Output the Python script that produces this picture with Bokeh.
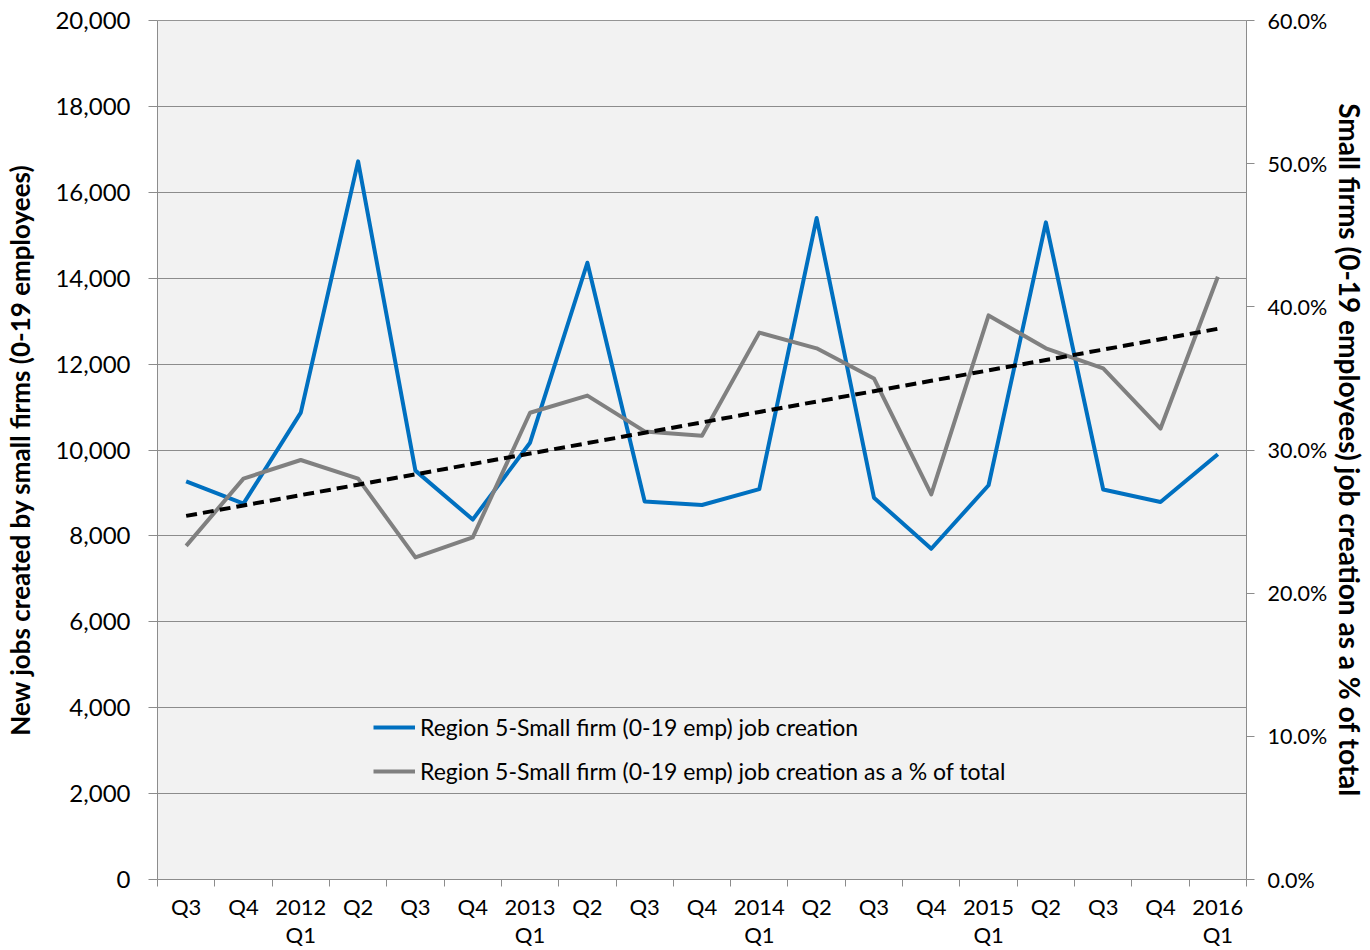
import numpy as np
from bokeh.plotting import figure
from bokeh.models import (Range1d, LinearAxis, FixedTicker, NumeralTickFormatter,
                          Legend, LegendItem, Span)
from bokeh.embed import file_html
from bokeh.resources import INLINE

# ---- data ----
categories = ["Q3", "Q4", "2012\nQ1", "Q2", "Q3", "Q4", "2013\nQ1", "Q2", "Q3", "Q4",
              "2014\nQ1", "Q2", "Q3", "Q4", "2015\nQ1", "Q2", "Q3", "Q4", "2016\nQ1"]
jobs = [9270, 8750, 10870, 16720, 9520, 8380, 10170, 14360, 8800, 8720,
        9090, 15400, 8890, 7700, 9180, 15300, 9080, 8790, 9900]
share = [0.233, 0.280, 0.293, 0.280, 0.225, 0.239, 0.326, 0.338, 0.313, 0.310,
         0.382, 0.371, 0.350, 0.269, 0.394, 0.371, 0.357, 0.315, 0.421]
jobs_label = "Region 5-Small firm (0-19 emp) job creation"
share_label = "Region 5-Small firm (0-19 emp) job creation as a % of total"
left_title = "New jobs created by small firms (0-19 employees)"
right_title = "Small firms (0-19 employees) job creation as a % of total"

x = list(range(len(categories)))
coef = np.polyfit(x, share, 1)
trend = [coef[0] * i + coef[1] for i in x]

FONT = "Lato"
GRID = "#8c8c8c"

p = figure(width=1370, height=950, output_backend="svg", toolbar_location=None,
           x_range=Range1d(-0.5, len(categories) - 0.5), y_range=Range1d(0, 20000),
           min_border_left=157, min_border_right=123, min_border_top=20, min_border_bottom=70,
           background_fill_color="#f2f2f2", border_fill_color="white")
p.outline_line_color = None
p.extra_y_ranges = {"pct": Range1d(0, 0.6)}

# x axis: labels at category centres, ticks at boundaries (minor)
xa = p.xaxis[0]
xa.ticker = FixedTicker(ticks=x, minor_ticks=[i - 0.5 for i in range(len(categories) + 1)])
xa.major_label_overrides = {i: c for i, c in enumerate(categories)}
xa.major_tick_out = 0
xa.major_tick_in = 0
xa.minor_tick_out = 7
xa.minor_tick_in = 0
xa.axis_line_color = GRID
xa.minor_tick_line_color = GRID
xa.major_label_text_font = FONT
xa.major_label_text_font_size = "22px"
xa.major_label_text_color = "black"
xa.major_label_text_line_height = 1.05
xa.major_label_standoff = 6
p.xgrid.visible = False

# left axis
ya = p.yaxis[0]
ya.ticker = FixedTicker(ticks=list(range(0, 20001, 2000)))
ya.formatter = NumeralTickFormatter(format="0,0")
ya.minor_tick_line_color = None
ya.major_tick_out = 9
ya.major_tick_in = 0
ya.axis_line_color = GRID
ya.major_tick_line_color = GRID
ya.major_label_text_font = FONT
ya.major_label_text_font_size = "24px"
ya.major_label_text_color = "black"
ya.major_label_standoff = 18
ya.axis_label = left_title
ya.axis_label_text_font = FONT
ya.axis_label_text_font_size = "26px"
ya.axis_label_text_font_style = "bold"
ya.axis_label_text_color = "black"
ya.axis_label_standoff = 16
p.ygrid.ticker = FixedTicker(ticks=list(range(0, 20001, 2000)))
p.ygrid.grid_line_color = GRID
p.ygrid.grid_line_width = 1.2

# right axis
ra = LinearAxis(y_range_name="pct", ticker=FixedTicker(ticks=[i / 10 for i in range(7)]),
                formatter=NumeralTickFormatter(format="0.0%"))
ra.minor_tick_line_color = None
ra.major_tick_out = 8
ra.major_tick_in = 0
ra.axis_line_color = GRID
ra.major_tick_line_color = GRID
ra.major_label_text_font = FONT
ra.major_label_text_font_size = "21.5px"
ra.major_label_text_color = "black"
ra.major_label_standoff = 13
ra.axis_label = right_title
ra.axis_label_text_font = FONT
ra.axis_label_text_font_size = "28px"
ra.axis_label_text_font_style = "bold"
ra.axis_label_text_color = "black"
ra.axis_label_standoff = 3
p.add_layout(ra, "right")

p.add_layout(Span(location=20000, dimension="width", line_color="#333333", line_width=1))

r_jobs = p.line(x, jobs, line_color="#0070C0", line_width=4, line_join="round")
r_share = p.line(x, share, y_range_name="pct", line_color="#808080", line_width=4, line_join="round")
p.line(x, trend, y_range_name="pct", line_color="black", line_width=4, line_dash="11 6")

legend = Legend(items=[LegendItem(label=jobs_label, renderers=[r_jobs]),
                       LegendItem(label=share_label, renderers=[r_share])],
                location=(216, 94), orientation="vertical")
legend.background_fill_alpha = 0
legend.border_line_color = None
legend.padding = 0
legend.margin = 0
legend.spacing = 16
legend.glyph_width = 42
legend.glyph_height = 20
legend.label_height = 20
legend.label_standoff = 5
legend.label_text_font = FONT
legend.label_text_font_size = "23px"
legend.label_text_color = "black"
p.add_layout(legend, "center")

open("out.html", "w").write(file_html(p, INLINE))
